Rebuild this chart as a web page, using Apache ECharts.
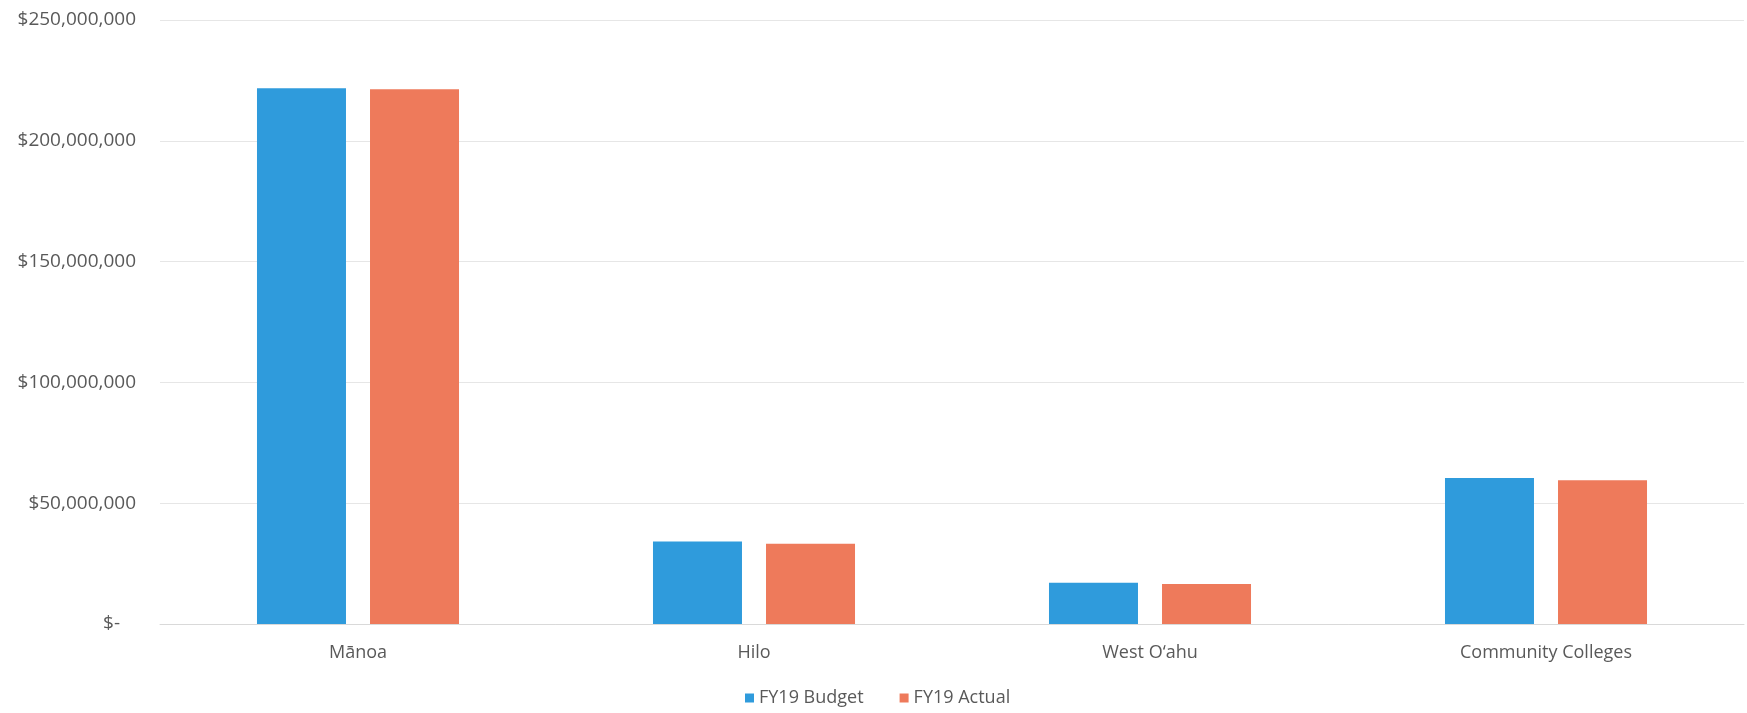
<!DOCTYPE html>
<html>
<head>
<meta charset="utf-8">
<script src="https://cdn.jsdelivr.net/npm/echarts@6/dist/echarts.min.js"></script>
<style>
  html, body { margin: 0; padding: 0; background: #fff; }
  #chart { width: 1747px; height: 713px; }
</style>
</head>
<body>
<div id="chart"></div>
<script>
const categories = ['Mānoa', 'Hilo', 'West O\u2018ahu', 'Community Colleges'];
const budget = [221700000, 34100000, 17100000, 60400000];
const actual = [221300000, 33200000, 16600000, 59500000];
const yTickLabels = ['$-', '$50,000,000', '$100,000,000', '$150,000,000', '$200,000,000', '$250,000,000'];

const chartDom = document.getElementById('chart');
const myChart = echarts.init(chartDom);
const option = {
  animation: false,
  textStyle: { fontFamily: 'Open Sans' },
  grid: { left: 160, right: 3, top: 20, bottom: 89 },
  legend: {
    data: ['FY19 Budget', 'FY19 Actual'],
    bottom: 1,
    left: 740,
    itemWidth: 9,
    itemHeight: 9,
    itemGap: 36,
    icon: 'rect',
    textStyle: { color: '#595959', fontSize: 18 }
  },
  xAxis: {
    type: 'category',
    data: categories,
    axisTick: { show: false },
    axisLine: { lineStyle: { color: '#d9d9d9' } },
    axisLabel: { color: '#595959', fontSize: 18, margin: 20 }
  },
  yAxis: {
    type: 'value',
    min: 0,
    max: 250000000,
    interval: 50000000,
    splitLine: { lineStyle: { color: '#e6e6e6' } },
    axisLabel: {
      color: '#595959',
      fontSize: 19,
      margin: 24,
      formatter: function (v) {
        const i = Math.round(v / 50000000);
        return i === 0 ? '{z|' + yTickLabels[0] + '}' : yTickLabels[i];
      },
      rich: { z: { color: '#595959', fontSize: 19, padding: [0, 16, 0, 0] } }
    }
  },
  series: [
    {
      name: 'FY19 Budget',
      type: 'bar',
      data: budget,
      barWidth: 89,
      barGap: '27%',
      itemStyle: { color: '#2f9bdc' }
    },
    {
      name: 'FY19 Actual',
      type: 'bar',
      data: actual,
      barWidth: 89,
      itemStyle: { color: '#ee7a5b' }
    }
  ]
};
option && myChart.setOption(option);
</script>
</body>
</html>
